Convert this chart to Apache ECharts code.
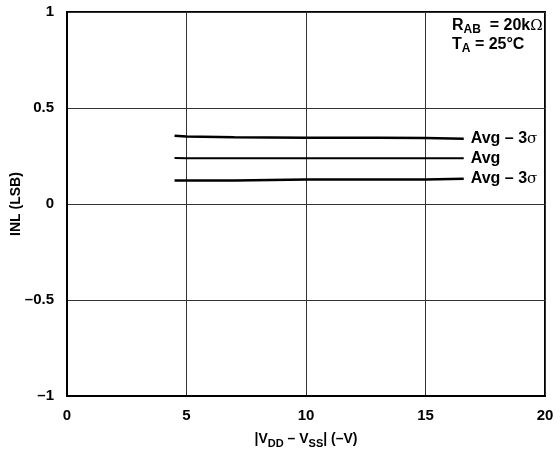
<!DOCTYPE html>
<html>
<head>
<meta charset="utf-8">
<script src="https://cdn.jsdelivr.net/npm/echarts@6/dist/echarts.min.js"></script>
<style>html,body{margin:0;padding:0;background:#fff;}#c{width:560px;height:462px;}</style>
</head>
<body>
<div id="c"></div>
<script>
const supplyV = [4.5, 5, 7, 10, 13, 15, 16.6];
const inlUpper = [0.356, 0.351, 0.348, 0.345, 0.345, 0.344, 0.340];
const inlAvg = [0.240, 0.238, 0.238, 0.238, 0.238, 0.238, 0.238];
const inlLower = [0.122, 0.122, 0.123, 0.127, 0.128, 0.128, 0.132];
const seriesNames = ['Avg – 3σ', 'Avg', 'Avg – 3σ'];
const xTicks = [0, 5, 10, 15, 20];
const yTicks = [-1, -0.5, 0, 0.5, 1];

const FONT = '"Liberation Sans", Arial, sans-serif';
const chart = echarts.init(document.getElementById('c'), null, {renderer: 'canvas'});

function fmtNum(v) {
  const s = String(Math.abs(v));
  return v < 0 ? '–' + s : s;
}
function pairs(ys) { return supplyV.map((x, i) => [x, ys[i]]); }

const labelRich = {
  t: {fontFamily: FONT, fontWeight: 'bold', fontSize: 16, color: '#000'},
  s: {fontFamily: '"DejaVu Serif", serif', fontWeight: 'normal', fontSize: 15, color: '#000'}
};
function mkSeries(name, ys, w) {
  return {
    type: 'line', name: name, data: pairs(ys), symbol: 'none', smooth: false,
    lineStyle: {color: '#000', width: w},
    endLabel: {
      show: true, distance: 7,
      formatter: () => name.includes('σ') ? '{t|Avg – 3}{s|σ}' : '{t|Avg}',
      rich: labelRich
    },
    silent: true
  };
}

const annRich = {
  t: {fontFamily: FONT, fontWeight: 'bold', fontSize: 16, fill: '#000'},
  o: {fontFamily: '"DejaVu Serif", serif', fontWeight: 'normal', fontSize: 15, fill: '#000'},
  sub: {fontFamily: FONT, fontWeight: 'bold', fontSize: 12, fill: '#000', padding: [8, 0, 0, 0]}
};

chart.setOption({
  animation: false,
  backgroundColor: '#fff',
  grid: {left: 67, right: 15, top: 12, bottom: 66, containLabel: false, outerBoundsMode: 'none',
         show: true, borderColor: '#000', borderWidth: 2, backgroundColor: 'transparent'},
  xAxis: {
    type: 'value', min: 0, max: 20, interval: 5,
    axisLine: {show: true, onZero: false, lineStyle: {color: '#000', width: 2}},
    axisTick: {show: false},
    splitLine: {show: true, lineStyle: {color: '#333', width: 1}},
    axisLabel: {
      fontFamily: FONT, fontWeight: 'bold', fontSize: 15, color: '#000', margin: 12,
      formatter: v => xTicks.includes(v) ? fmtNum(v) : ''
    },
    name: '|V{sub|DD} – V{sub|SS}| (–V)',
    nameLocation: 'middle', nameGap: 34, nameMoveOverlap: false,
    nameTextStyle: {
      fontFamily: FONT, fontWeight: 'bold', fontSize: 14, color: '#000',
      rich: {sub: {fontFamily: FONT, fontWeight: 'bold', fontSize: 11, color: '#000', padding: [8, 0, 0, 0]}}
    }
  },
  yAxis: {
    type: 'value', min: -1, max: 1, interval: 0.5,
    axisLine: {show: true, onZero: false, lineStyle: {color: '#000', width: 2}},
    axisTick: {show: false},
    splitLine: {show: true, lineStyle: {color: '#333', width: 1}},
    axisLabel: {
      fontFamily: FONT, fontWeight: 'bold', fontSize: 15, color: '#000', margin: 13,
      formatter: v => yTicks.includes(v) ? fmtNum(v) : ''
    },
    name: 'INL (LSB)', nameLocation: 'middle', nameGap: 44, nameRotate: 90, nameMoveOverlap: false,
    nameTextStyle: {fontFamily: FONT, fontWeight: 'bold', fontSize: 14, color: '#000'}
  },
  series: [
    mkSeries(seriesNames[0], inlUpper, 2.5),
    mkSeries(seriesNames[1], inlAvg, 2),
    mkSeries(seriesNames[2], inlLower, 2.5)
  ],
  graphic: [
    {type: 'text', left: 452, top: 18, style: {text: '{t|R}{sub|AB}{t|  = 20k}{o|Ω}', rich: annRich}},
    {type: 'text', left: 452, top: 37, style: {text: '{t|T}{sub|A}{t| = 25°C}', rich: annRich}}
  ]
});
</script>
</body>
</html>
